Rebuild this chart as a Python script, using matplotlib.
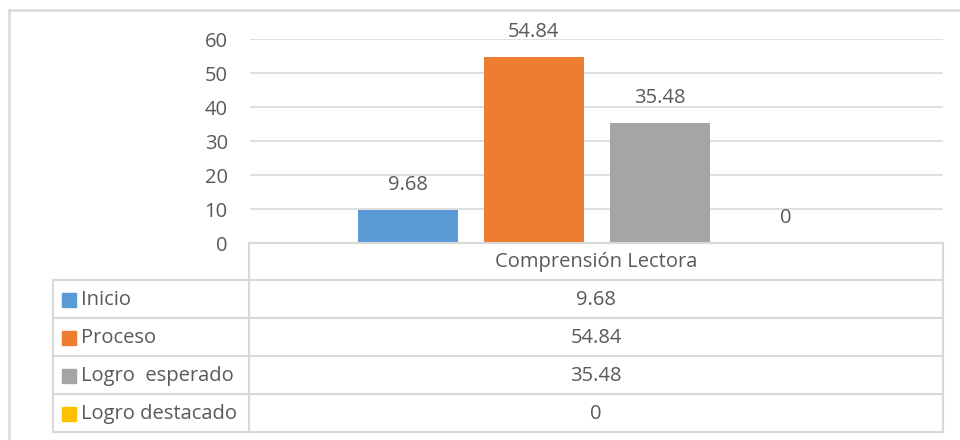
import matplotlib
matplotlib.use('agg')
import matplotlib.pyplot as plt
from matplotlib.lines import Line2D
from matplotlib.patches import Rectangle
import numpy as np

plt.rcParams['font.family'] = ['Open Sans', 'DejaVu Sans']

category = 'Comprensión Lectora'
series = ['Inicio', 'Proceso', 'Logro  esperado', 'Logro destacado']
values = [9.68, 54.84, 35.48, 0]
value_text = ['9.68', '54.84', '35.48', '0']
colors = ['#5B9BD5', '#ED7D31', '#A5A5A5', '#FFC000']
yticks = [0, 10, 20, 30, 40, 50, 60]

W, H = 960, 440
TXT = '#595959'
GRID = '#d9d9d9'
FS = 14.5


def fx(x):
    return x / W


def fy(y):
    return 1 - y / H


def hline(fig, x0, x1, y, lw=1.5):
    fig.add_artist(Line2D([fx(x0), fx(x1)], [fy(y), fy(y)], color=GRID, lw=lw))


def vline(fig, x, y0, y1, lw=1.5):
    fig.add_artist(Line2D([fx(x), fx(x)], [fy(y0), fy(y1)], color=GRID, lw=lw))


fig = plt.figure(figsize=(W / 100, H / 100), dpi=100)

# plot area in pixel coords
left, right, top, bottom = 250, 943, 39.5, 243
ax = fig.add_axes([fx(left), fy(bottom), fx(right - left), (bottom - top) / H])
ax.set_xlim(-0.5, 0.5)
ax.set_ylim(0, 60)

bw = 100 / (right - left)
step = 126 / (right - left)
offsets = (np.arange(len(values)) - (len(values) - 1) / 2) * step
ax.bar(offsets, values, width=bw, color=colors, zorder=3)
for x, v, t in zip(offsets, values, value_text):
    ax.annotate(t, (x, v), xytext=(0, 18), textcoords='offset points',
                ha='center', va='center', fontsize=FS, color=TXT, clip_on=False)

ax.set_yticks(yticks)
ax.set_xticks([])
ax.tick_params(axis='y', length=0, pad=16, labelsize=FS, labelcolor=TXT)
ax.grid(axis='y', color=GRID, lw=1.2, zorder=0)
for s in ax.spines.values():
    s.set_visible(False)

# data table
rows_y = [243, 280, 318, 356, 394, 432]
col_x = [53, 249, 943]
hline(fig, col_x[1], col_x[2], rows_y[0])
for y in rows_y[1:]:
    hline(fig, col_x[0], col_x[2], y)
vline(fig, col_x[0], rows_y[1], rows_y[-1])
vline(fig, col_x[1], rows_y[0], rows_y[-1])
vline(fig, col_x[2], rows_y[0], rows_y[-1])

fig.text(fx((col_x[1] + col_x[2]) / 2), fy((rows_y[0] + rows_y[1]) / 2 + 1), category,
         ha='center', va='center', fontsize=FS, color=TXT)
for i, (name, t, c) in enumerate(zip(series, value_text, colors)):
    yc = (rows_y[i + 1] + rows_y[i + 2]) / 2 + 1
    fig.add_artist(Rectangle((fx(62), fy(yc + 7)), 14 / W, 14 / H,
                             transform=fig.transFigure, color=c))
    fig.text(fx(81), fy(yc), name, ha='left', va='center', fontsize=FS, color=TXT)
    fig.text(fx((col_x[1] + col_x[2]) / 2), fy(yc), t, ha='center', va='center',
             fontsize=FS, color=TXT)

# chart border
hline(fig, 9, W, 10, lw=1.8)
vline(fig, 9, 10, H, lw=1.8)

fig.savefig('out.png', dpi=100, facecolor='white')
